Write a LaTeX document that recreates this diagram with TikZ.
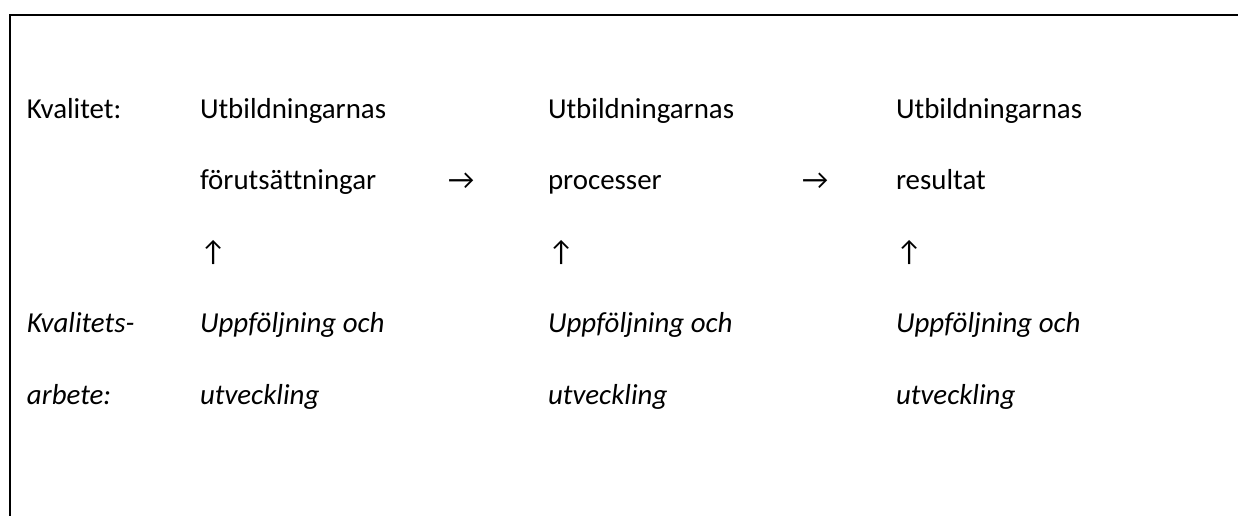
\documentclass[tikz,border=0pt]{standalone}
\usepackage{fontspec}
\setmainfont[Ligatures=NoCommon]{Carlito}
\begin{document}
\begin{tikzpicture}[x=1pt,y=-1pt,
  txt/.style={anchor=base west, inner sep=0pt, outer sep=0pt, font=\fontsize{28.9}{34}\selectfont},
  itx/.style={anchor=base west, inner sep=0pt, outer sep=0pt, font=\fontsize{28.9}{34}\selectfont\itshape}]
\useasboundingbox (0,0) rectangle (1238,515);
\draw[line width=2pt] (10,516) -- (10,15) -- (1239,15);
% row 1
\node[txt] (k1) at (27,118) {Kvalitet:};
\node[txt] (u1) at (200,118) {Utbildningarnas};
\node[txt] (u2) at (548,118) {Utbildningarnas};
\node[txt] (u3) at (896,118) {Utbildningarnas};
% row 2
\node[txt] (f1) at (200,189.5) {förutsättningar};
\node[txt] (a1) at (448,189.5) {→};
\node[txt] (f2) at (548,189.5) {processer};
\node[txt] (a2) at (802,189.5) {→};
\node[txt] (f3) at (896,189.5) {resultat};
% row 3
\node[txt] (up1) at (200,261) {↑};
\node[txt] (up2) at (548,261) {↑};
\node[txt] (up3) at (896,261) {↑};
% row 4
\node[itx] (k2) at (27,332.5) {Kvalitets-};
\node[itx] (p1) at (200,332.5) {Uppföljning och};
\node[itx] (p2) at (548,332.5) {Uppföljning och};
\node[itx] (p3) at (896,332.5) {Uppföljning och};
% row 5
\node[itx] (k3) at (27,404) {arbete:};
\node[itx] (v1) at (200,404) {utveckling};
\node[itx] (v2) at (548,404) {utveckling};
\node[itx] (v3) at (896,404) {utveckling};
\end{tikzpicture}
\end{document}
